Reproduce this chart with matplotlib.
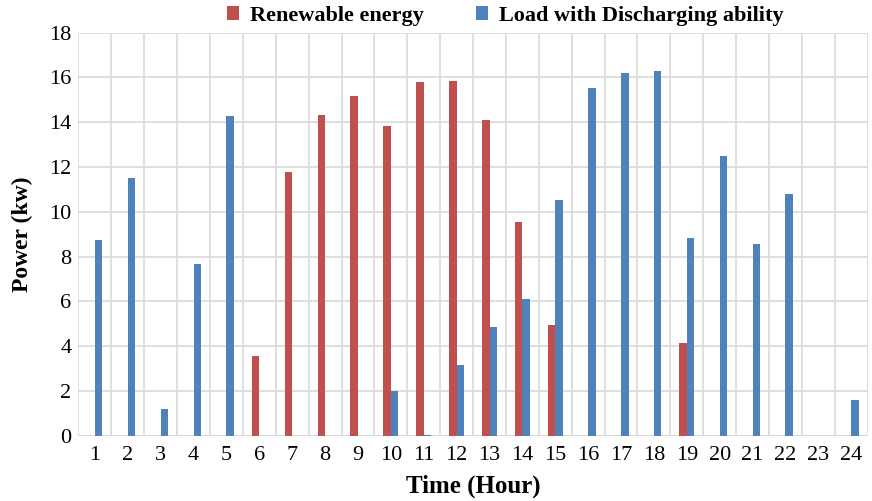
import matplotlib.pyplot as plt
import numpy as np

hours = list(range(1, 25))
renewable = [0, 0, 0, 0, 0, 3.58, 11.78, 14.3, 15.18, 13.84, 15.78, 15.85,
             14.1, 9.55, 4.93, 0, 0, 0, 4.15, 0, 0, 0, 0, 0]
load = [8.73, 11.5, 1.21, 7.69, 14.28, 0, 0, 0, 0, 1.99, 0.05, 3.15,
        4.88, 6.12, 10.51, 15.53, 16.2, 16.3, 8.85, 12.5, 8.55, 10.8, 0, 1.6]

red = "#c0504d"
blue = "#4f81bd"

plt.rcParams['font.family'] = ['Liberation Serif', 'DejaVu Serif']

fig, ax = plt.subplots(figsize=(8.72, 5.01), dpi=100)
fig.subplots_adjust(left=0.09, right=0.995, top=0.935, bottom=0.13)

x = np.arange(len(hours))
w = 0.23
ax.bar(x - w / 2, renewable, w, color=red, label="Renewable energy", zorder=3)
ax.bar(x + w / 2, load, w, color=blue, label="Load with Discharging ability", zorder=3)

ax.set_xlim(-0.5, len(hours) - 0.5)
ax.set_ylim(0, 18)
ax.set_yticks(range(0, 19, 2))
ax.set_xticks(x)
ax.set_xticklabels([str(h) for h in hours])
ax.set_xticks(np.arange(-0.5, len(hours)), minor=True)
ax.tick_params(axis='both', which='both', length=0, labelsize=16)
ax.tick_params(axis='x', pad=7)
ax.tick_params(axis='y', pad=5)
ax.grid(True, which='minor', axis='x', color='#d9d9d9', lw=1.2, zorder=0)
ax.grid(True, which='major', axis='y', color='#d9d9d9', lw=1.2, zorder=0)
for s in ax.spines.values():
    s.set_visible(False)
ax.axhline(0, color='#d9d9d9', lw=1.5, zorder=2)

ax.set_xlabel("Time (Hour)", fontsize=18, fontweight='bold', labelpad=7)
ax.set_ylabel("Power (kw)", fontsize=17, fontweight='bold', labelpad=12)

leg = ax.legend(loc='lower center', bbox_to_anchor=(0.541, 1.017), ncol=2, frameon=False,
                prop={'weight': 'bold', 'size': 16}, handlelength=0.55, handleheight=0.55,
                columnspacing=2.35, handletextpad=0.5, borderaxespad=0, borderpad=0)

fig.savefig("out.png", dpi=100)
